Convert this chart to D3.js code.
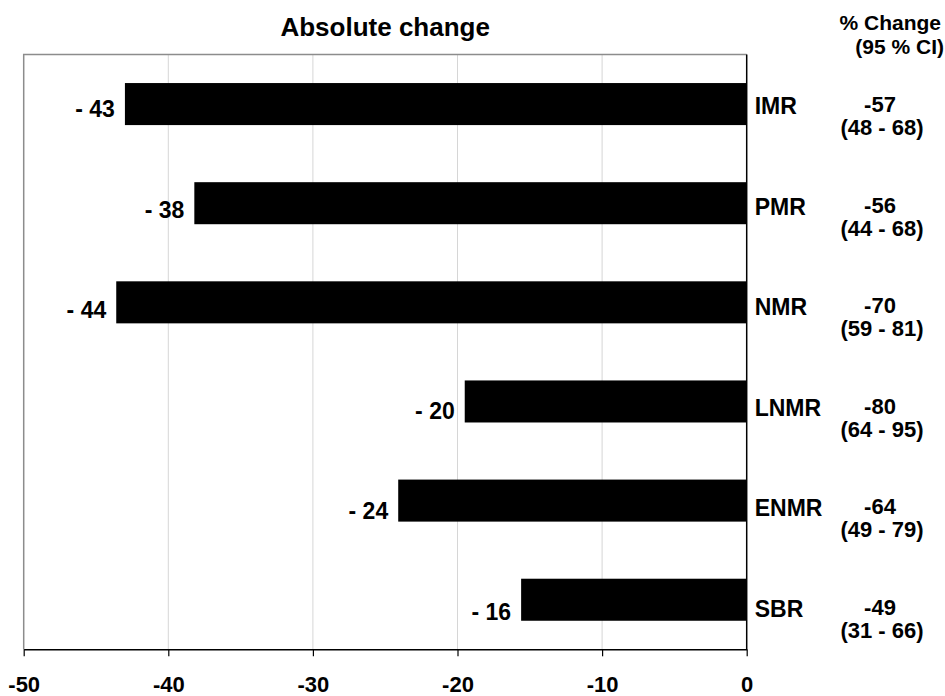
<!DOCTYPE html>
<html>
  <head>
      <meta charset="utf-8">
      <script src="https://cdnjs.cloudflare.com/ajax/libs/d3/7.8.5/d3.min.js"></script>
      <style>
        body { margin: 0; background: #fff; }
        text { font-family: "Liberation Sans", Arial, sans-serif; font-weight: bold; fill: #000; }
      </style>
  </head>
  <body>
    <div id="vis"></div>
    <script type="text/javascript">

        // data
        const categories = ["IMR", "PMR", "NMR", "LNMR", "ENMR", "SBR"];
        const absChange = [-43.0, -38.2, -43.6, -19.5, -24.1, -15.6];
        const absLabels = ["- 43", "- 38", "- 44", "- 20", "- 24", "- 16"];
        const pctChange = ["-57", "-56", "-70", "-80", "-64", "-49"];
        const pctCI = ["(48 - 68)", "(44 - 68)", "(59 - 81)", "(64 - 95)", "(49 - 79)", "(31 - 66)"];
        const xTicks = [-50, -40, -30, -20, -10, 0];

        const width = 945, height = 696;
        const plotLeft = 23.7, plotRight = 746.7, plotTop = 54.5, plotBottom = 649.3;

        const svg = d3.select("#vis")
            .append("svg")
            .attr("width", width)
            .attr("height", height);

        const x = d3.scaleLinear().domain([-50, 0]).range([plotLeft, plotRight]);
        const y = d3.scaleBand().domain(categories).range([plotTop, plotBottom])
            .paddingInner(0.576).paddingOuter(0.288);
        // text baselines sit a little lower than the bar centres
        const textY = d3.scalePoint().domain(categories).range([114, 617]);

        // gridlines
        svg.append("g")
            .selectAll("line")
            .data(xTicks.filter(t => t > -50 && t < 0))
            .enter().append("line")
            .attr("x1", d => x(d)).attr("x2", d => x(d))
            .attr("y1", plotTop).attr("y2", plotBottom)
            .attr("stroke", "#d6d6d6").attr("stroke-width", 1);

        // gray frame on top and left
        svg.append("path")
            .attr("d", `M${plotLeft},${plotBottom}V${plotTop}H${plotRight}`)
            .attr("fill", "none").attr("stroke", "#8c8c8c").attr("stroke-width", 1.5);

        // bars
        svg.append("g")
            .selectAll("rect")
            .data(categories)
            .enter().append("rect")
            .attr("x", (d, i) => x(absChange[i]))
            .attr("y", d => y(d))
            .attr("width", (d, i) => x(0) - x(absChange[i]))
            .attr("height", y.bandwidth())
            .attr("fill", "#000");

        // zero axis line
        svg.append("line")
            .attr("x1", x(0)).attr("x2", x(0))
            .attr("y1", plotTop).attr("y2", plotBottom)
            .attr("stroke", "#000").attr("stroke-width", 1.5);

        // bottom axis
        const axis = svg.append("g")
            .attr("transform", `translate(0,${plotBottom})`)
            .call(d3.axisBottom(x).tickValues(xTicks).tickSize(7).tickSizeOuter(0)
                .tickFormat(d => String(d)));
        axis.select(".domain").attr("stroke", "#000").attr("stroke-width", 1.5);
        axis.selectAll(".tick line").attr("stroke", "#000").attr("stroke-width", 1.2);
        axis.selectAll(".tick text")
            .attr("y", 43).attr("dy", 0)
            .style("font-size", "22px")
            .style("font-family", "'Liberation Sans', Arial, sans-serif")
            .style("font-weight", "bold")
            .attr("fill", "#000");

        // value labels left of bars
        svg.append("g")
            .selectAll("text")
            .data(categories)
            .enter().append("text")
            .attr("x", (d, i) => x(absChange[i]) - 10)
            .attr("y", d => textY(d) + 3)
            .attr("text-anchor", "end")
            .style("font-size", "23px")
            .text((d, i) => absLabels[i]);

        // category labels
        svg.append("g")
            .selectAll("text")
            .data(categories)
            .enter().append("text")
            .attr("x", x(0) + 8)
            .attr("y", d => textY(d))
            .style("font-size", "23px")
            .text(d => d);

        // % change and CI
        const pct = svg.append("g")
            .selectAll("g")
            .data(categories)
            .enter().append("g");
        pct.append("text")
            .attr("x", 880)
            .attr("y", d => textY(d) - 2)
            .attr("text-anchor", "middle")
            .style("font-size", "22px")
            .text((d, i) => pctChange[i]);
        pct.append("text")
            .attr("x", 882)
            .attr("y", d => textY(d) + 21)
            .attr("text-anchor", "middle")
            .style("font-size", "22px")
            .text((d, i) => pctCI[i]);

        // titles
        svg.append("text")
            .attr("x", (plotLeft + plotRight) / 2)
            .attr("y", 36)
            .attr("text-anchor", "middle")
            .style("font-size", "26px")
            .text("Absolute change");

        svg.append("text")
            .attr("x", 941)
            .attr("y", 30)
            .attr("text-anchor", "end")
            .style("font-size", "21px")
            .text("% Change");
        svg.append("text")
            .attr("x", 944)
            .attr("y", 54)
            .attr("text-anchor", "end")
            .style("font-size", "21px")
            .text("(95 % CI)");

    </script>
  </body>
</html>
